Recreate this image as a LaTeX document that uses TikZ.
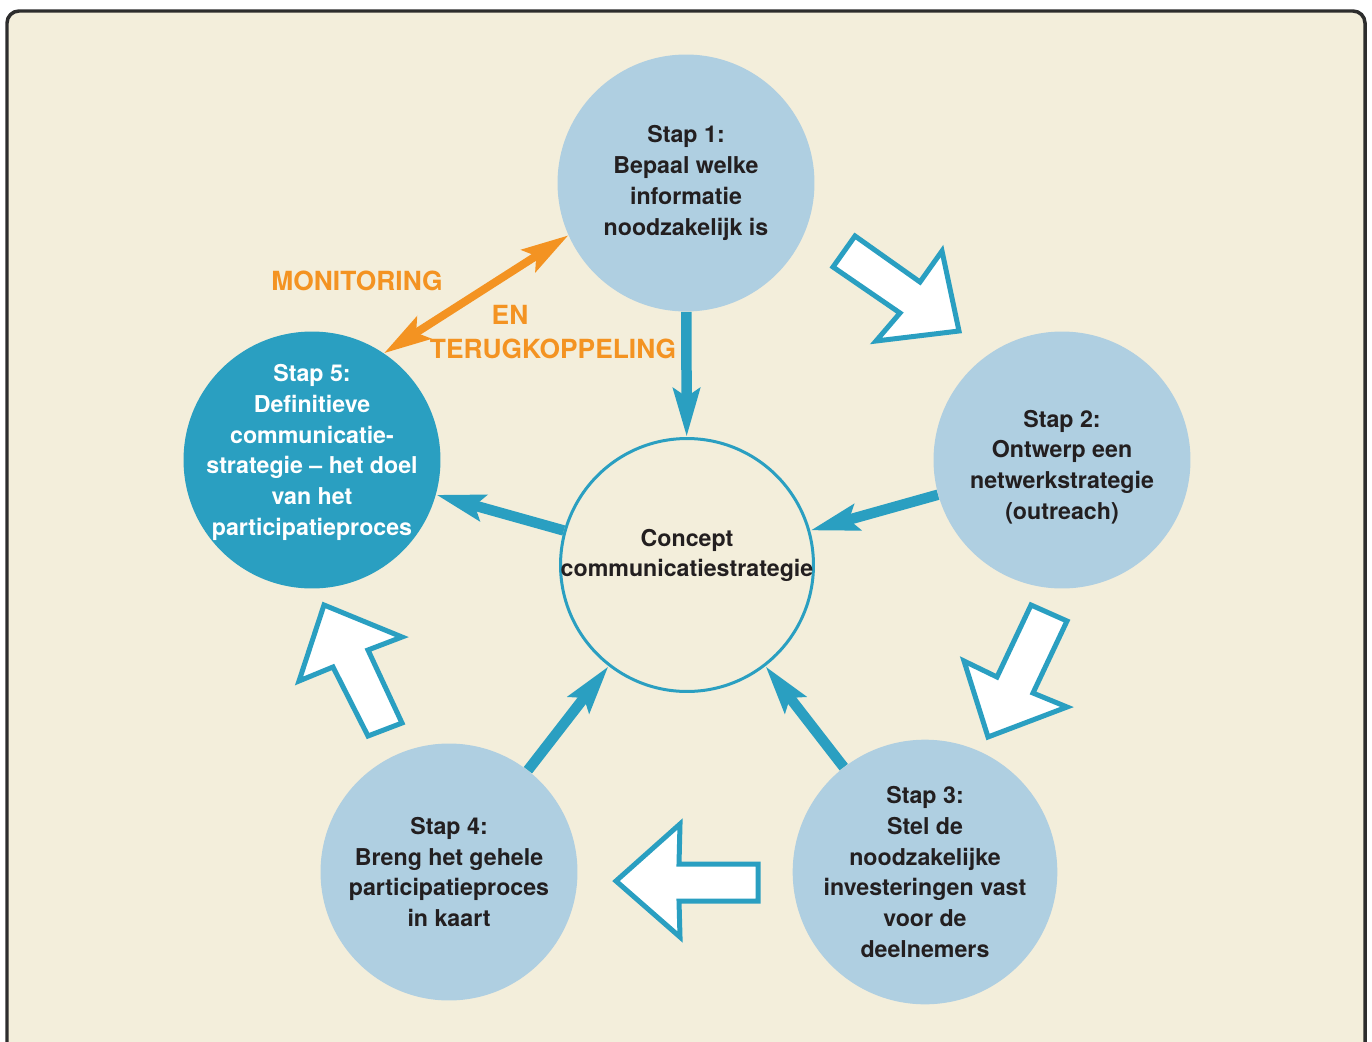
\documentclass[tikz,border=0pt]{standalone}
\usepackage{fontspec}
\setmainfont{TeX Gyre Heros}
\usetikzlibrary{arrows.meta}

\definecolor{achter}{HTML}{F3EEDB}
\definecolor{lichtblauw}{HTML}{AFCFE1}
\definecolor{blauw}{HTML}{2A9FC1}
\definecolor{oranje}{HTML}{F39322}
\definecolor{donker}{HTML}{231F20}
\definecolor{rand}{HTML}{2D2D2D}

\begin{document}
\begin{tikzpicture}[x=0.02cm,y=-0.02cm,
  tekst/.style={align=center,text=donker,font=\fontsize{13.2}{17.5}\selectfont\bfseries},
  stap/.style={circle,fill=lichtblauw,minimum size=5.14cm,inner sep=0pt,tekst},
  laatste/.style={stap,fill=blauw},
  concept/.style={circle,draw=blauw,line width=0.06cm,fill=achter,minimum size=5.06cm,inner sep=0pt},
  pijl/.style={blauw,line width=0.21cm,-{Stealth[length=0.96cm,width=0.52cm,inset=0.16cm]}},
  terug/.style={oranje,line width=0.16cm,>={Stealth[length=0.94cm,width=0.52cm,inset=0.18cm]},<->},
  blok/.style={draw=blauw,fill=white,line width=0.1cm,line join=miter},
  oranjetekst/.style={text=oranje,font=\fontsize{15}{17}\selectfont\bfseries}]
\clip (0,0) rectangle (1372,1041);
\fill[white] (0,0) rectangle (1372,1041);
\draw[rand,fill=achter,line width=0.07cm,rounded corners=0.24cm] (7,11) rectangle (1365,1080);

% de vijf stappen en het concept
\node[stap]    (s_1) at (686,183) {Stap 1:\\Bepaal welke\\informatie\\noodzakelijk is};
\node[stap, label={[tekst,yshift=-0.14cm]center:{Stap 2:\\Ontwerp een\\netwerkstrategie\\(outreach)}}]
               (s_2) at (1062,460) {};
\node[stap]    (s_3) at (925,872) {Stap 3:\\Stel de\\noodzakelijke\\investeringen vast\\voor de\\deelnemers};
\node[stap]    (s_4) at (449,872) {Stap 4:\\Breng het gehele\\participatieproces\\in kaart};
\node[laatste, label={[tekst,text=white,yshift=0.15cm]center:{Stap 5:\\Definitieve\\communicatie-\\strategie -- het doel\\van het\\participatieproces}}]
               (s_5) at (312,460) {};
\node[concept, label={[tekst,yshift=0.19cm]center:{Concept\\communicatiestrategie}}]
               (c)   at (687,565) {};

\path[pijl]
          (s_1) edge (c)
          (s_2) edge (c)
          (s_3) edge (c)
          (s_4) edge (c)
          (c)   edge (s_5);

% monitoring en terugkoppeling
\draw[terug] (s_5.56) -- (s_1.204);
\node[oranjetekst] (m_1) at (357,281) {MONITORING};
\node[oranjetekst] (m_2) at (510,315) {EN};
\node[oranjetekst] (m_3) at (553,349) {TERUGKOPPELING};

% grote pijlen tussen de stappen
\draw[blok] (855,236) -- (920,282) -- (942,251) -- (959,331) -- (876,341) -- (900,313) -- (833,267) -- cycle;
\draw[blok] (1031,605) -- (1067,621) -- (1033,693) -- (1067,707) -- (988,737) -- (964,661) -- (997,677) -- cycle;
\draw[blok] (616,881) -- (680,824) -- (679,864) -- (758,864) -- (758,901) -- (679,901) -- (680,937) -- cycle;
\draw[blok] (324,605) -- (402,637) -- (368,650) -- (402,723) -- (368,736) -- (333,667) -- (299,681) -- cycle;
\end{tikzpicture}
\end{document}
